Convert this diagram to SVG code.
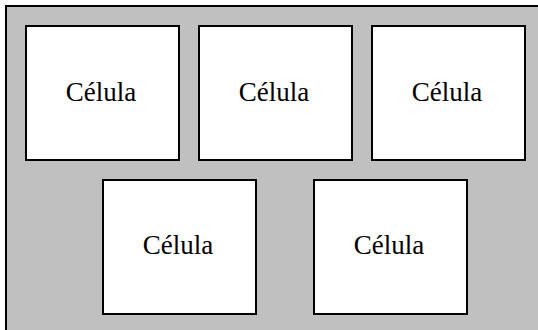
<svg xmlns="http://www.w3.org/2000/svg" width="538" height="330" viewBox="0 0 538 330">
<style>
.cell rect{fill:#ffffff;stroke:#000000;stroke-width:2}
.cell text{font-family:'Liberation Serif','Times New Roman',serif;font-size:27px;fill:#000000;text-anchor:middle}
</style>
<rect width="538" height="330" fill="#ffffff"/>
<rect id="frame" x="6" y="6" width="540" height="340" fill="#c0c0c0" stroke="#000000" stroke-width="2"/>
<g id="cell1" class="cell"><rect x="26" y="26" width="153" height="134"/><text x="101" y="100.5">Célula</text></g>
<g id="cell2" class="cell"><rect x="199" y="26" width="153" height="134"/><text x="274" y="100.5">Célula</text></g>
<g id="cell3" class="cell"><rect x="372" y="26" width="153" height="134"/><text x="447" y="100.5">Célula</text></g>
<g id="cell4" class="cell"><rect x="103" y="180" width="153" height="134"/><text x="178" y="254">Célula</text></g>
<g id="cell5" class="cell"><rect x="314" y="180" width="153" height="134"/><text x="389" y="254">Célula</text></g>
<g id="connectors"></g>
</svg>
